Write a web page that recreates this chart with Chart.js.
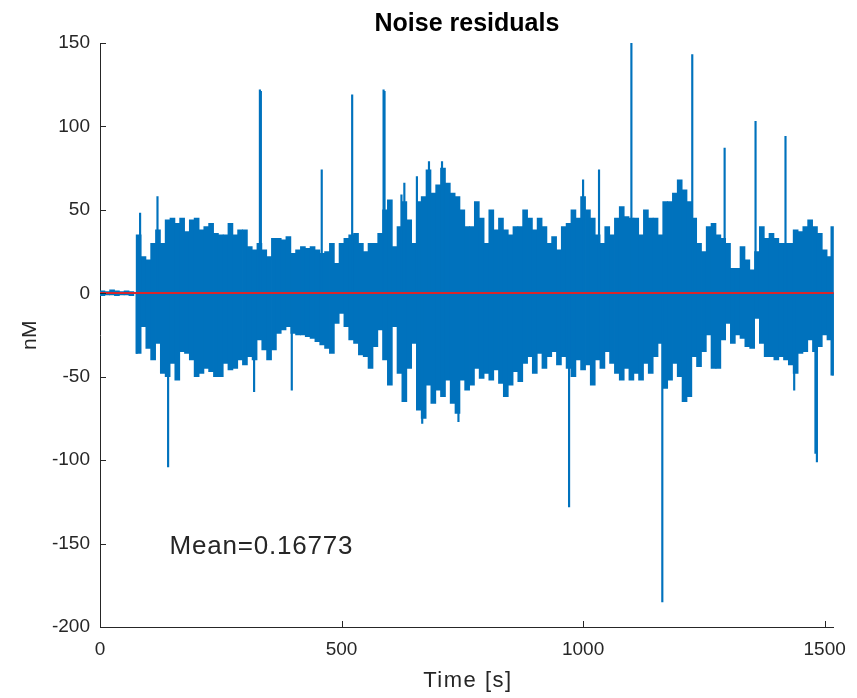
<!DOCTYPE html>
<html><head><meta charset="utf-8">
<script src="https://cdn.jsdelivr.net/npm/chart.js@4"></script>
<style>html,body{margin:0;padding:0;background:#fff}#wrap{width:857px;height:698px;position:relative}</style>
</head><body><div id="wrap"><canvas id="c" width="857" height="698"></canvas></div>
<script>
// ---- data (time in s, values in nM) ----
const binTime = [5,15,25,35,45,55,65,
80,90,100,110,120,130,140,150,160,170,180,190,200,210,220,230,240,250,
260,270,280,290,300,310,320,330,340,350,360,370,380,390,400,410,420,430,440,450,460,470,480,490,500,
510,520,530,540,550,560,570,580,590,600,610,620,630,640,650,660,670,680,690,700,710,720,730,740,750,760,
770,780,790,800,810,820,830,840,850,860,870,880,890,900,910,920,930,940,950,960,970,980,990,1000,1010,1020,
1030,1040,1050,1060,1070,1080,1090,1100,1110,1120,1130,1140,1150,1160,1170,1180,1190,1200,1210,1220,1230,1240,1250,1260,1270,1280,
1290,1300,1310,1320,1330,1340,1350,1360,1370,1380,1390,1400,1410,1420,1430,1440,1450,1460,1470,1480,1490,1500,1510,1518];
const binHigh = [1.5,1,2,1.5,1,1.5,1,
35,22,20,30,38,30,44,45,42,45,37,44,45,38,40,42,36,35,
35,42,35,38,38,28,26,30,26,22,33,33,32,34,24,26,28,27,28,26,24,25,30,18,30,
33,35,36,30,25,30,30,36,50,56,28,40,55,44,30,55,58,74,60,65,75,66,60,58,50,40,
40,55,45,30,50,38,45,38,35,40,40,50,45,38,45,40,30,34,26,40,42,50,45,58,50,45,
35,30,40,35,45,52,46,45,45,35,50,45,45,35,55,55,60,68,62,55,45,30,25,40,42,35,
33,30,15,15,28,20,14,25,40,33,36,33,30,30,30,38,37,40,44,40,36,26,22,40];
const binLow = [-1.5,-1,-1,-1.5,-1,-1,-1.5,
-36,-20,-33,-40,-30,-48,-50,-42,-52,-35,-36,-40,-50,-48,-45,-47,-50,-50,
-42,-46,-45,-40,-43,-38,-40,-28,-34,-40,-34,-24,-22,-20,-24,-25,-25,-26,-27,-29,-31,-33,-36,-18,-12,
-20,-28,-30,-37,-38,-45,-32,-22,-40,-55,-20,-48,-65,-45,-30,-70,-75,-55,-66,-58,-62,-52,-66,-72,-52,-58,
-55,-45,-51,-48,-52,-46,-54,-62,-55,-47,-53,-42,-38,-48,-36,-45,-38,-35,-43,-38,-45,-50,-40,-46,-43,-55,
-40,-45,-35,-42,-48,-52,-45,-52,-48,-52,-42,-48,-38,-30,-57,-52,-42,-50,-65,-62,-38,-44,-35,-25,-45,-45,
-28,-18,-30,-25,-27,-32,-33,-15,-30,-38,-38,-40,-38,-40,-43,-48,-36,-35,-28,-35,-32,-25,-28,-49];
const spikeTime  = [76,83,119,141,319,331,333,397,459,522,587,589,624,630,656,667,681,708,742,971,1000,1033,1100,1164,1226,1293,1357,1419,1437,1481,1484,1517];
const spikeValue = [-36,48,58,-104,-59,122,121,-58,74,119,122,121,59,66,70,-78,79,79,-77,-128,68,74,150,-185,143,87,103,94,-58,-96,-101,-49];
const meanValue = 0.16773;
const timeRange = [0, 1519];
const xTicks = [0, 500, 1000, 1500];
const yTicks = [-200, -150, -100, -50, 0, 50, 100, 150];
const titleText = 'Noise residuals';
const xLabel = 'Time [s]';
const yLabel = 'nM';
const meanLabel = 'Mean=' + meanValue;
const meanLabelAt = [144, -156];

const BLUE = '#0072BD';
const RED = '#D9262B';
const AXIS = '#262626';
const FONT = "'Liberation Sans', Arial, Helvetica, sans-serif";

const decor = {
  id: 'decor',
  afterDraw(chart) {
    const ctx = chart.ctx, ca = chart.chartArea;
    const xs = chart.scales.x, ys = chart.scales.y;
    ctx.save();
    // inward ticks
    ctx.strokeStyle = AXIS; ctx.lineWidth = 1;
    ctx.beginPath();
    xTicks.forEach(v => { const p = Math.round(xs.getPixelForValue(v)) + 0.5; ctx.moveTo(p, ca.bottom); ctx.lineTo(p, ca.bottom - 6); });
    yTicks.forEach(v => { const p = Math.round(ys.getPixelForValue(v)) + 0.5; ctx.moveTo(ca.left, p); ctx.lineTo(ca.left + 6, p); });
    ctx.stroke();
    // title
    ctx.fillStyle = '#000';
    ctx.font = 'bold 25px ' + FONT;
    ctx.textAlign = 'center'; ctx.textBaseline = 'alphabetic';
    ctx.fillText(titleText, (ca.left + ca.right) / 2, 31);
    // x label
    ctx.fillStyle = AXIS;
    ctx.font = '22px ' + FONT;
    ctx.letterSpacing = '1.5px';
    ctx.fillText(xLabel, (ca.left + ca.right) / 2 + 1, 687);
    // y label
    ctx.save();
    ctx.translate(36, (ca.top + ca.bottom) / 2);
    ctx.rotate(-Math.PI / 2);
    ctx.letterSpacing = '0.5px';
    ctx.font = '21px ' + FONT;
    ctx.fillText(yLabel, 0, 0);
    ctx.restore();
    // mean text
    ctx.letterSpacing = '0.8px';
    ctx.font = '26px ' + FONT;
    ctx.textAlign = 'left';
    ctx.fillText(meanLabel, xs.getPixelForValue(meanLabelAt[0]), ys.getPixelForValue(meanLabelAt[1]));
    ctx.restore();
  }
};

new Chart(document.getElementById('c'), {
  type: 'bar',
  data: {
    datasets: [
      {
        type: 'bar',
        data: binTime.map((t, i) => ({ x: t, y: [binLow[i], binHigh[i]] })),
        backgroundColor: BLUE, borderWidth: 0, barThickness: 5, grouped: false, order: 3
      },
      {
        type: 'bar',
        data: spikeTime.map((t, i) => ({ x: t, y: [0, spikeValue[i]] })),
        backgroundColor: BLUE, borderWidth: 0, barThickness: 1.5, grouped: false, order: 2
      },
      {
        type: 'line',
        data: [{ x: timeRange[0], y: meanValue }, { x: timeRange[1], y: meanValue }],
        borderColor: RED, borderWidth: 2, pointRadius: 0, order: 1
      }
    ]
  },
  options: {
    responsive: false, animation: false, devicePixelRatio: 1,
    layout: { padding: { top: 43, right: 19, left: 0, bottom: 0 } },
    plugins: { legend: { display: false }, tooltip: { enabled: false }, title: { display: false } },
    scales: {
      x: {
        type: 'linear', min: timeRange[0], max: timeRange[1], offset: false,
        afterBuildTicks: s => { s.ticks = xTicks.map(v => ({ value: v })); },
        afterFit: s => { s.height = 71; },
        grid: { display: false, drawTicks: false },
        border: { display: true, color: AXIS, width: 1 },
        ticks: { color: AXIS, font: { family: FONT, size: 19 }, padding: 11, maxRotation: 0, autoSkip: false, callback: v => String(v) }
      },
      y: {
        type: 'linear', min: -200, max: 150,
        afterBuildTicks: s => { s.ticks = yTicks.map(v => ({ value: v })); },
        afterFit: s => { s.width = 100; },
        grid: { display: false, drawTicks: false },
        border: { display: true, color: AXIS, width: 1 },
        ticks: { color: AXIS, font: { family: FONT, size: 19 }, padding: 10, autoSkip: false, callback: v => String(v) }
      }
    }
  },
  plugins: [decor]
});
</script></body></html>
